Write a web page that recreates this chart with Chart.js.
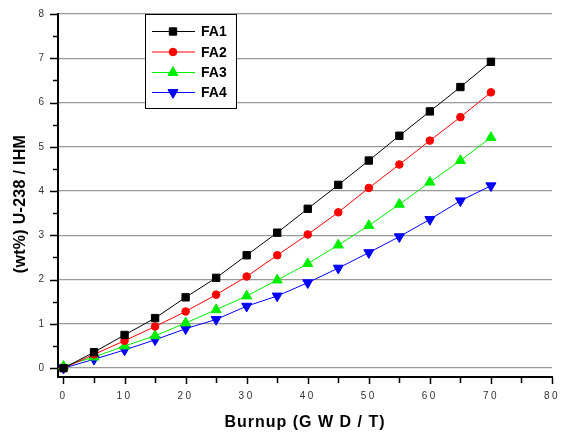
<!DOCTYPE html>
<html>
<head>
<meta charset="utf-8">
<script src="https://cdn.jsdelivr.net/npm/chart.js@4.4.1/dist/chart.umd.min.js"></script>
<style>
  html, body { margin: 0; padding: 0; background: #fff; }
  #c { display: block; }
</style>
</head>
<body>
<canvas id="c" width="561" height="436"></canvas>
<script>
// Burnup steps (GWD/T)
const burnup = [0, 5, 10, 15, 20, 25, 30, 35, 40, 45, 50, 55, 60, 65, 70];

// U-238 content per assembly (wt% of IHM)
const fa1 = [0, 0.36, 0.75, 1.13, 1.60, 2.04, 2.55, 3.06, 3.60, 4.14, 4.69, 5.25, 5.80, 6.35, 6.92];
const fa2 = [0, 0.31, 0.62, 0.94, 1.28, 1.66, 2.07, 2.55, 3.02, 3.52, 4.07, 4.60, 5.14, 5.67, 6.23];
const fa3 = [0.04, 0.25, 0.50, 0.73, 1.02, 1.32, 1.63, 1.99, 2.36, 2.78, 3.22, 3.70, 4.20, 4.69, 5.21];
const fa4 = [0, 0.20, 0.41, 0.64, 0.89, 1.10, 1.40, 1.63, 1.93, 2.26, 2.61, 2.97, 3.36, 3.78, 4.12];

const seriesNames = ['FA1', 'FA2', 'FA3', 'FA4'];
const xTickValues = [0, 10, 20, 30, 40, 50, 60, 70, 80];
const yTickValues = [0, 1, 2, 3, 4, 5, 6, 7, 8];
const xTitle = 'Burnup (G W D / T)';
const yTitle = '(wt%) U-238 / IHM';

const styles = [
  { color: '#000000', pointStyle: 'rect',     radius: 5.2, rotation: 0 },
  { color: '#ff0000', pointStyle: 'circle',   radius: 3.8, rotation: 0 },
  { color: '#00ee00', pointStyle: 'triangle', radius: 5.8, rotation: 0 },
  { color: '#0000ff', pointStyle: 'triangle', radius: 5.8, rotation: 180 }
];

const seriesValues = [fa1, fa2, fa3, fa4];
const datasets = seriesValues.map((vals, i) => ({
  label: seriesNames[i],
  data: burnup.map((x, j) => ({ x: x, y: vals[j] })),
  borderColor: styles[i].color,
  backgroundColor: styles[i].color,
  borderWidth: 1,
  pointStyle: styles[i].pointStyle,
  pointRadius: styles[i].radius,
  pointRotation: styles[i].rotation,
  pointBorderWidth: 1,
  pointHoverRadius: styles[i].radius,
  showLine: true,
  tension: 0
}));

const tickFont = { family: 'Liberation Sans, Arial, sans-serif', size: 10 };
const tickColor = '#333';

// Spaced-out digits for the axis tick labels (scales draw before datasets)
const spacedTickText = {
  id: 'spacedTickText',
  beforeDraw(chart) { chart.ctx.letterSpacing = '2.5px'; },
  beforeDatasetsDraw(chart) { chart.ctx.letterSpacing = '0px'; }
};

// Short tick marks on both axes: majors on labelled values, minors halfway
const tickMarks = {
  id: 'tickMarks',
  afterDraw(chart) {
    const { ctx, scales: { x, y } } = chart;
    ctx.save();
    ctx.strokeStyle = '#000';
    ctx.lineWidth = 1.5;
    ctx.beginPath();
    for (let v = 0; v <= 8.001; v += 0.5) {
      const py = Math.round(y.getPixelForValue(v)) + 0.5;
      const len = Number.isInteger(v) ? 7 : 4;
      ctx.moveTo(x.left - 1, py);
      ctx.lineTo(x.left - 1 - len, py);
    }
    for (let v = 0; v <= 80.001; v += 5) {
      const px = Math.round(x.getPixelForValue(v)) + 0.5;
      const len = v % 10 === 0 ? 6 : 5;
      ctx.moveTo(px, y.bottom + 1);
      ctx.lineTo(px, y.bottom + 1 + len);
    }
    ctx.stroke();
    ctx.restore();
  }
};

// Axis titles
const axisTitles = {
  id: 'axisTitles',
  afterDraw(chart) {
    const { ctx, chartArea } = chart;
    ctx.save();
    ctx.fillStyle = '#000';
    ctx.font = 'bold 16px "Liberation Sans", Arial, sans-serif';
    ctx.textAlign = 'center';
    ctx.textBaseline = 'middle';
    ctx.letterSpacing = '1px';
    ctx.fillText(xTitle, (chartArea.left + chartArea.right) / 2, 423);
    ctx.letterSpacing = '0.3px';
    ctx.translate(21, 204);
    ctx.rotate(-Math.PI / 2);
    ctx.fillText(yTitle, 0, 0);
    ctx.restore();
  }
};

// Boxed legend inside the plot area
const boxLegend = {
  id: 'boxLegend',
  afterDraw(chart) {
    const { ctx } = chart;
    const bx = 145.5, by = 14.5, bw = 91, bh = 94;
    ctx.save();
    ctx.letterSpacing = '0px';
    ctx.fillStyle = '#fff';
    ctx.fillRect(bx, by, bw, bh);
    ctx.strokeStyle = '#000';
    ctx.lineWidth = 1;
    ctx.strokeRect(bx, by, bw, bh);
    const rows = [31.5, 52, 72.5, 92.5];
    chart.data.datasets.forEach((ds, i) => {
      const yy = rows[i];
      ctx.strokeStyle = ds.borderColor;
      ctx.lineWidth = 1;
      ctx.beginPath();
      ctx.moveTo(152, yy);
      ctx.lineTo(195, yy);
      ctx.stroke();
      ctx.fillStyle = ds.backgroundColor;
      Chart.helpers.drawPoint(ctx, {
        pointStyle: ds.pointStyle,
        radius: ds.pointRadius,
        rotation: ds.pointRotation,
        borderWidth: 1
      }, 173, yy);
      ctx.fillStyle = '#000';
      ctx.font = 'bold 14px "Liberation Sans", Arial, sans-serif';
      ctx.textAlign = 'left';
      ctx.textBaseline = 'middle';
      ctx.fillText(ds.label, 201, yy + 1);
    });
    ctx.restore();
  }
};

new Chart(document.getElementById('c'), {
  type: 'scatter',
  data: { datasets: datasets },
  plugins: [spacedTickText, tickMarks, axisTitles, boxLegend],
  options: {
    responsive: false,
    animation: false,
    devicePixelRatio: 1,
    layout: { padding: { top: 14, right: 9, left: 0, bottom: 0 } },
    plugins: { legend: { display: false }, tooltip: { enabled: false } },
    scales: {
      x: {
        type: 'linear',
        min: -0.9,
        max: 80,
        afterBuildTicks: (s) => { s.ticks = xTickValues.map(v => ({ value: v })); },
        afterFit: (s) => { s.height = 59; s.paddingLeft = 0; s.paddingRight = 0; },
        grid: { display: false, drawTicks: false },
        border: { display: true, color: '#000', width: 2 },
        ticks: { font: tickFont, color: tickColor, padding: 13, maxRotation: 0 }
      },
      y: {
        type: 'linear',
        min: -0.2,
        max: 8,
        afterBuildTicks: (s) => { s.ticks = yTickValues.map(v => ({ value: v })); },
        afterFit: (s) => { s.width = 58; s.paddingTop = 0; s.paddingBottom = 0; },
        grid: { color: '#999', lineWidth: 1.3, drawTicks: false },
        border: { display: true, color: '#000', width: 2 },
        ticks: { font: tickFont, color: tickColor, padding: 11.5 }
      }
    }
  }
});
</script>
</body>
</html>
